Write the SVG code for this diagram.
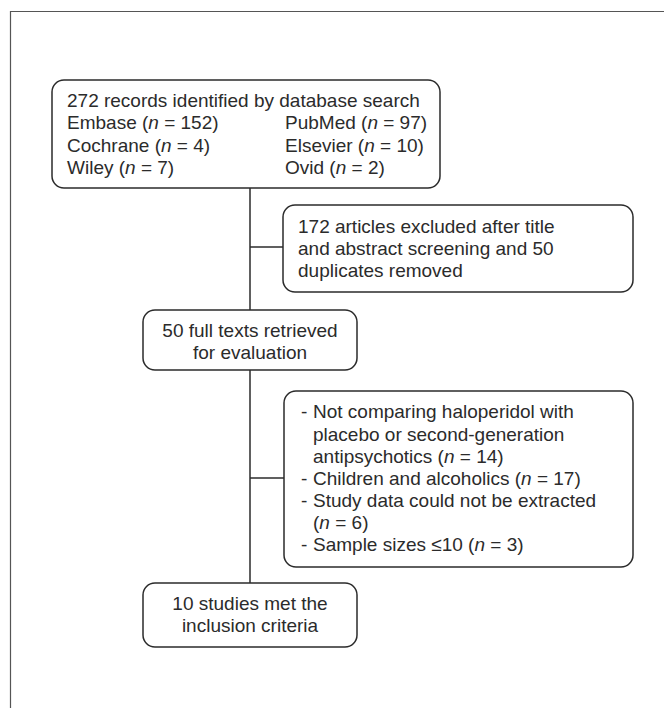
<svg xmlns="http://www.w3.org/2000/svg" width="664" height="708" viewBox="0 0 664 708">
<style>
.box{fill:#fff;stroke:#2b2b2b;stroke-width:1.5}
.t{font-family:"Liberation Sans",Arial,sans-serif;font-size:19px;fill:#2b2b2b}
.c{text-anchor:middle}
.ln{stroke:#2b2b2b;stroke-width:1.5;fill:none}
</style>
<rect width="664" height="708" fill="#fff"/>
<path d="M10.5 720 V11.5 H680" fill="none" stroke="#555" stroke-width="1.2"/>
<g id="connectors">
<line class="ln" x1="250" y1="188" x2="250" y2="583"/>
<line class="ln" x1="250" y1="247" x2="283" y2="247"/>
<line class="ln" x1="250" y1="478" x2="284" y2="478"/>
</g>
<g id="n1">
<rect class="box" x="52" y="80" width="388" height="108" rx="12"/>
<text class="t" x="67" y="107">272 records identified by database search</text>
<text class="t" x="67" y="129">Embase (<tspan font-style="italic">n</tspan> = 152)</text>
<text class="t" x="285" y="129">PubMed (<tspan font-style="italic">n</tspan> = 97)</text>
<text class="t" x="67" y="152">Cochrane (<tspan font-style="italic">n</tspan> = 4)</text>
<text class="t" x="285" y="152">Elsevier (<tspan font-style="italic">n</tspan> = 10)</text>
<text class="t" x="67" y="174">Wiley (<tspan font-style="italic">n</tspan> = 7)</text>
<text class="t" x="285" y="174">Ovid (<tspan font-style="italic">n</tspan> = 2)</text>
</g>
<g id="n2">
<rect class="box" x="283" y="205" width="350" height="87" rx="12"/>
<text class="t" x="298" y="233">172 articles excluded after title</text>
<text class="t" x="298" y="255">and abstract screening and 50</text>
<text class="t" x="298" y="277">duplicates removed</text>
</g>
<g id="n3">
<rect class="box" x="143" y="310" width="214" height="60" rx="12"/>
<text class="t c" x="250" y="337">50 full texts retrieved</text>
<text class="t c" x="250" y="359">for evaluation</text>
</g>
<g id="n4">
<rect class="box" x="284" y="391" width="349" height="176" rx="12"/>
<text class="t" x="301" y="418">-</text><text class="t" x="313" y="418">Not comparing haloperidol with</text>
<text class="t" x="313" y="441">placebo or second-generation</text>
<text class="t" x="313" y="463">antipsychotics (<tspan font-style="italic">n</tspan> = 14)</text>
<text class="t" x="301" y="485">-</text><text class="t" x="313" y="485">Children and alcoholics (<tspan font-style="italic">n</tspan> = 17)</text>
<text class="t" x="301" y="507">-</text><text class="t" x="313" y="507">Study data could not be extracted</text>
<text class="t" x="313" y="529">(<tspan font-style="italic">n</tspan> = 6)</text>
<text class="t" x="301" y="551">-</text><text class="t" x="313" y="551">Sample sizes ≤10 (<tspan font-style="italic">n</tspan> = 3)</text>
</g>
<g id="n5">
<rect class="box" x="143" y="583" width="214" height="64" rx="12"/>
<text class="t c" x="250" y="610">10 studies met the</text>
<text class="t c" x="250" y="632">inclusion criteria</text>
</g>
</svg>
